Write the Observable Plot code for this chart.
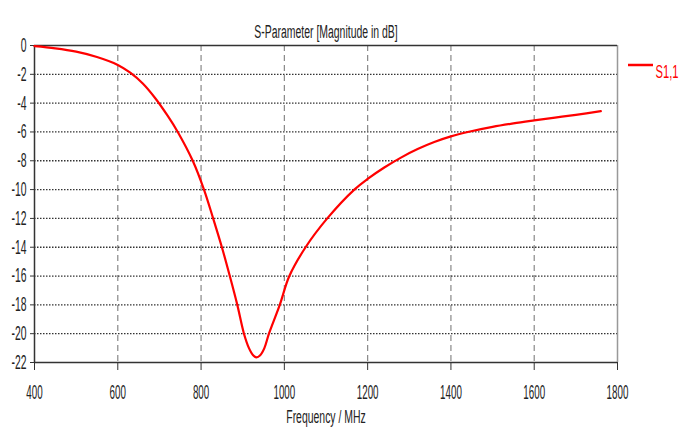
<!DOCTYPE html>
<html>
<head>
<meta charset="utf-8">
<script src="https://cdn.jsdelivr.net/npm/d3@7"></script>
<script src="https://cdn.jsdelivr.net/npm/@observablehq/plot@0.6"></script>
<style>
  html, body { margin: 0; padding: 0; background: #fff; }
  #chart { position: relative; width: 692px; height: 437px; }
</style>
</head>
<body>
<div id="chart"></div>
<script>
const title = "S-Parameter [Magnitude in dB]";
const xLabel = "Frequency / MHz";
const seriesName = "S1,1";
const xTicks = [400, 600, 800, 1000, 1200, 1400, 1600, 1800];
const yTicks = [0, -2, -4, -6, -8, -10, -12, -14, -16, -18, -20, -22];

const freq = [400, 450, 500, 550, 600, 630, 660, 690, 720, 744, 780, 807, 829, 850, 869, 887, 903, 915, 925, 933, 942, 952, 963, 989, 1012, 1051, 1103, 1168, 1200, 1240, 1280, 1320, 1360, 1400, 1446, 1500, 1550, 1600, 1650, 1700, 1760];
const s11  = [-0.05, -0.2, -0.43, -0.8, -1.35, -1.89, -2.64, -3.66, -4.89, -6.0, -8.0, -10.0, -12.0, -14.0, -16.0, -18.0, -20.0, -21.0, -21.5, -21.65, -21.5, -21.0, -20.0, -18.0, -16.0, -14.0, -12.0, -10.0, -9.26, -8.47, -7.78, -7.19, -6.7, -6.31, -5.97, -5.65, -5.41, -5.2, -5.0, -4.81, -4.56];

const data = freq.map((f, i) => ({f, s: s11[i]}));
const font = "'Liberation Sans', Arial, sans-serif";

const plot = Plot.plot({
  width: 692,
  height: 437,
  marginLeft: 34,
  marginRight: 75,
  marginTop: 45,
  marginBottom: 75,
  style: {fontFamily: font, fontSize: "20px", color: "#222", background: "#fff"},
  x: {domain: [400, 1800]},
  y: {domain: [-22, 0]},
  marks: [
    Plot.gridX(xTicks.slice(1, -1), {stroke: "#888", strokeOpacity: 1, strokeWidth: 1.2, strokeDasharray: "6,4"}),
    Plot.gridY(yTicks.slice(1, -1), {stroke: "#333", strokeOpacity: 1, strokeWidth: 1.3, strokeDasharray: "1.5,1.5"}),
    Plot.ruleX([1800], {stroke: "#999", strokeWidth: 1.5}),
    Plot.ruleY([0], {stroke: "#333", strokeWidth: 1.5}),
    Plot.ruleY([-22], {stroke: "#333", strokeWidth: 1.5}),
    Plot.ruleX([400], {stroke: "#333", strokeWidth: 1.5}),
    Plot.axisX(xTicks, {tickSize: 8, tickPadding: 14, tickFormat: d => String(d), label: null, stroke: "#333", fill: "#222", fontSize: 20}),
    Plot.axisY(yTicks, {tickSize: 4, tickPadding: 4, tickFormat: d => String(d), label: null, stroke: "#333", fill: "#222", fontSize: 20}),
    Plot.line(data, {x: "f", y: "s", stroke: "#ff0000", strokeWidth: 2.2, curve: "catmull-rom"}),
    Plot.text([title], {frameAnchor: "top", dy: -20, fontSize: 18, fill: "#222"}),
    Plot.text([xLabel], {frameAnchor: "bottom", dy: 60, fontSize: 18, fill: "#222"}),
    Plot.text([seriesName], {frameAnchor: "top-right", dx: 38, dy: 20, textAnchor: "start", fontSize: 18, fill: "#ff0000"})
  ]
});

// legend swatch line, placed from the x scale's range end
const xr = plot.scale("x").range[1];
d3.select(plot).append("line")
  .attr("x1", xr + 11).attr("x2", xr + 36)
  .attr("y1", 65).attr("y2", 65)
  .attr("stroke", "#ff0000").attr("stroke-width", 2.5);

document.getElementById("chart").appendChild(plot);

// compress glyphs horizontally to imitate the narrow original lettering
function condense(sel, factor) {
  plot.querySelectorAll(sel).forEach(t => {
    const len = t.getComputedTextLength();
    if (len > 0) {
      t.setAttribute("textLength", (len * factor).toFixed(1));
      t.setAttribute("lengthAdjust", "spacingAndGlyphs");
    }
  });
}
condense('g[aria-label="x-axis tick label"] text', 0.49);
condense('g[aria-label="y-axis tick label"] text', 0.52);
const textGroups = plot.querySelectorAll('g[aria-label="text"]');
textGroups.forEach((g, i) => {
  g.querySelectorAll("text").forEach(t => {
    const len = t.getComputedTextLength();
    const f = i === 2 ? 0.62 : 0.58;
    t.setAttribute("textLength", (len * f).toFixed(1));
    t.setAttribute("lengthAdjust", "spacingAndGlyphs");
  });
});
</script>
</body>
</html>
